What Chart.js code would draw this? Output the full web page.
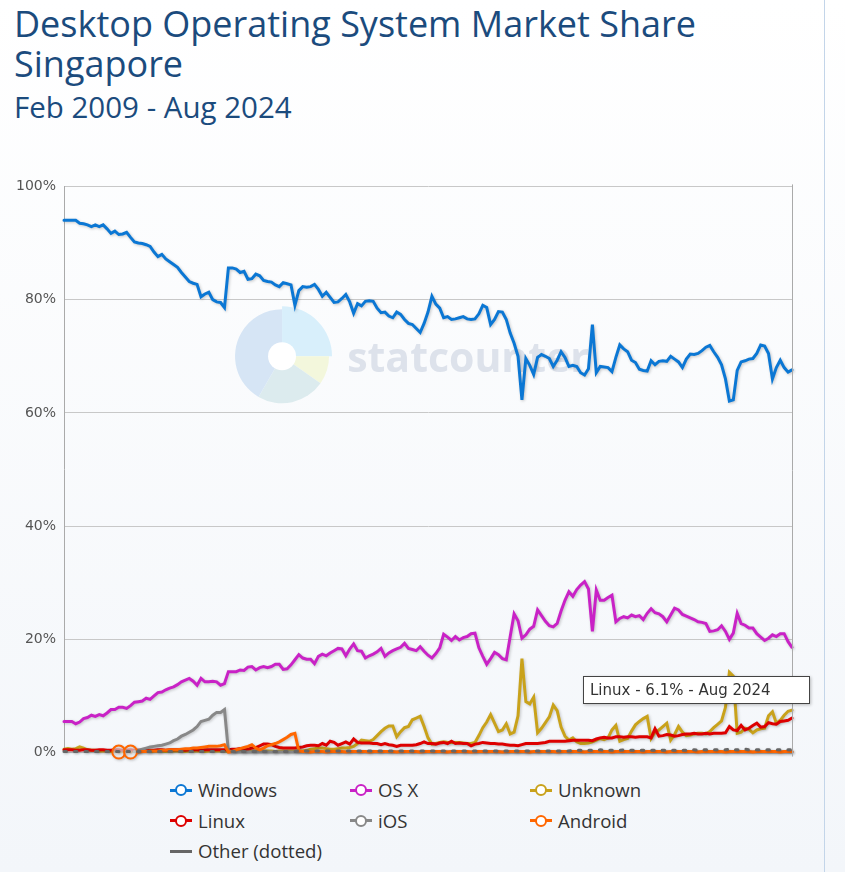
<!DOCTYPE html>
<html>
<head>
<meta charset="utf-8">
<title>Desktop Operating System Market Share Singapore</title>
<script src="https://cdn.jsdelivr.net/npm/chart.js@4.4.1/dist/chart.umd.min.js"></script>
<style>
    body {
        margin: 0;
        width: 845px;
        height: 872px;
        overflow: hidden;
        position: relative;
        background: linear-gradient(#ffffff, #f3f6fa);
        font-family: 'Open Sans', sans-serif;
    }
    #frame {
        position: absolute;
        left: 0;
        top: 0;
        width: 824px;
        height: 872px;
        border-right: 1px solid #c3d5e9;
    }
    h1, h2 {
        position: absolute;
        left: 14px;
        margin: 0;
        font-weight: normal;
        color: #1b4b7d;
        white-space: nowrap;
    }
    h1 { top: 4px; font-size: 36px; line-height: 40px; }
    h2 { top: 90px; font-size: 29.5px; line-height: 34px; }
    #wrap {
        position: absolute;
        left: 0;
        top: 170px;
        width: 800px;
        height: 599px;
    }
    #legend {
        position: absolute;
        left: 170px;
        top: 775px;
        display: grid;
        grid-template-columns: 180px 180px 180px;
        font-size: 18.6px;
        line-height: 30.5px;
        color: #333;
    }
    .item { display: flex; align-items: center; white-space: nowrap; }
    .mark { position: relative; width: 22px; height: 12px; margin-right: 6px; }
    .mark .ln { position: absolute; left: 0; top: 4.5px; width: 22px; height: 3px; }
    .mark .pt { position: absolute; left: 5px; top: 0; width: 8px; height: 8px; border-radius: 50%; border: 2px solid; background: #fff; }
    #tip {
        position: absolute;
        width: 219px;
        height: 26px;
        padding: 0 0 0 6px;
        background: #fff;
        border: 1px solid #444;
        box-shadow: 1px 1px 3px rgba(0,0,0,0.25);
        font-family: 'DejaVu Sans', sans-serif;
        font-size: 15px;
        line-height: 26px;
        color: #333;
        white-space: nowrap;
    }
</style>
</head>
<body>
<div id="frame"></div>
<h1>Desktop Operating System Market Share<br>Singapore</h1>
<h2>Feb 2009 - Aug 2024</h2>
<div id="wrap"><canvas id="chart"></canvas></div>
<div id="legend"></div>
<div id="tip"></div>
<script>
// monthly labels, Feb 2009 .. Aug 2024
const MONTHS = ['Jan','Feb','Mar','Apr','May','Jun','Jul','Aug','Sep','Oct','Nov','Dec'];
const labels = [];
for (let y = 2009, m = 1; y < 2024 || (y === 2024 && m <= 7); m++) {
    if (m === 12) { m = 0; y++; }
    labels.push(MONTHS[m] + ' ' + y);
}

const seriesNames = ['Windows', 'OS X', 'Unknown', 'Linux', 'iOS', 'Android', 'Other (dotted)'];
const seriesColors = ['#0b77d4', '#c922c6', '#c9a21b', '#dd0000', '#888888', '#ff6600', '#666666'];

const windows = [
    94.0, 94.0, 94.0, 94.0, 93.5, 93.4, 93.2, 92.9, 93.2, 92.9,
    93.2, 92.5, 91.7, 92.1, 91.5, 91.6, 91.9, 91.0, 90.2, 90.0,
    89.9, 89.7, 89.4, 88.4, 87.6, 88.0, 87.2, 86.7, 86.2, 85.7,
    84.8, 84.0, 83.2, 82.9, 82.7, 80.5, 81.0, 81.3, 80.0, 79.6,
    79.5, 78.6, 85.6, 85.6, 85.4, 84.8, 85.0, 83.6, 83.7, 84.5,
    84.2, 83.4, 83.2, 83.1, 82.6, 82.3, 83.0, 82.8, 82.6, 79.0,
    81.6, 82.3, 82.2, 82.3, 82.7, 81.8, 80.6, 81.3, 80.4, 79.5,
    79.6, 80.2, 80.9, 79.6, 77.6, 79.3, 78.9, 79.7, 79.8, 79.7,
    78.5, 77.7, 77.8, 77.1, 76.8, 77.8, 77.4, 76.5, 75.8, 75.6,
    74.9, 74.2, 75.8, 77.8, 80.6, 79.2, 78.5, 76.8, 77.0, 76.5,
    76.6, 76.8, 77.0, 76.6, 76.5, 76.6, 77.5, 79.0, 78.6, 75.6,
    76.5, 77.9, 77.8, 76.5, 74.1, 72.3, 70.0, 62.3, 69.6, 68.4,
    66.8, 69.8, 70.3, 70.0, 69.6, 68.2, 69.3, 70.8, 69.8, 68.2,
    68.4, 68.2, 67.1, 66.7, 67.8, 75.6, 67.1, 68.2, 68.1, 68.0,
    67.3, 69.8, 72.0, 71.3, 70.8, 69.3, 68.9, 67.7, 67.5, 67.4,
    69.2, 68.5, 69.1, 69.2, 69.1, 70.0, 69.5, 69.0, 68.0, 69.5,
    70.4, 70.3, 70.5, 71.0, 71.6, 71.9, 70.8, 69.8, 68.5, 66.0,
    62.1, 62.3, 67.5, 69.0, 69.2, 69.5, 69.6, 70.5, 72.0, 71.8,
    70.5, 66.0, 68.0, 69.3, 68.0, 67.2, 67.6
];

const osx = [
    5.5, 5.5, 5.5, 5.1, 5.4, 6.0, 6.2, 6.6, 6.4, 6.7,
    6.5, 7.0, 7.6, 7.6, 8.0, 8.0, 7.8, 8.3, 8.9, 9.0,
    9.1, 9.6, 9.4, 10.0, 10.6, 10.7, 11.1, 11.4, 11.6, 12.0,
    12.5, 12.8, 13.1, 12.6, 11.9, 13.1, 12.5, 12.5, 12.6, 12.5,
    11.9, 12.2, 14.3, 14.3, 14.3, 14.6, 14.5, 15.1, 15.2, 14.6,
    15.0, 15.2, 15.0, 15.2, 15.6, 15.6, 14.7, 14.8, 15.5, 16.4,
    17.3, 16.7, 16.5, 16.5, 15.7, 17.0, 17.4, 17.1, 17.6, 18.0,
    18.4, 18.3, 17.1, 18.3, 19.2, 18.0, 17.9, 16.7, 17.1, 17.4,
    17.8, 18.4, 17.0, 17.6, 18.0, 18.3, 18.6, 19.3, 18.4, 18.2,
    18.0, 18.7, 17.9, 17.2, 16.7, 17.5, 18.5, 20.9, 20.4, 19.8,
    20.5, 19.9, 20.3, 20.5, 21.0, 21.1, 18.5, 17.0, 15.6, 16.6,
    17.7, 17.3, 16.6, 16.4, 20.5, 24.5, 23.3, 20.2, 20.8, 21.8,
    22.3, 25.2, 24.2, 23.2, 22.4, 22.2, 22.8, 25.0, 26.9, 28.4,
    27.6, 28.8, 29.6, 30.2, 28.9, 21.4, 28.7, 26.9, 26.9, 27.4,
    27.8, 23.1, 23.7, 24.0, 23.8, 24.3, 24.0, 24.2, 23.5, 24.6,
    25.4, 24.7, 24.5, 24.0, 23.1, 24.3, 25.5, 25.2, 24.4, 24.1,
    23.8, 23.5, 23.1, 23.0, 22.8, 21.4, 21.5, 21.7, 22.4, 21.4,
    20.0, 21.1, 24.6, 22.8, 22.5, 22.0, 22.0, 21.0, 20.4, 19.8,
    20.2, 20.8, 20.5, 21.0, 21.0, 19.6, 18.6
];

const unknown = [
    0.6, 0.7, 0.6, 0.7, 1.0, 0.8, 0.5, 0.4, 0.4, 0.3,
    0.3, 0.3, 0.2, 0.3, 0.3, 0.2, 0.3, 0.3, 0.3, 0.2,
    0.3, 0.3, 0.2, 0.3, 0.3, 0.3, 0.2, 0.3, 0.3, 0.3,
    0.3, 0.2, 0.3, 0.3, 0.3, 0.3, 0.2, 0.3, 0.3, 0.3,
    0.3, 0.3, 0.2, 0.3, 0.3, 0.3, 0.3, 0.2, 0.3, 0.3,
    0.3, 0.3, 0.3, 0.3, 0.2, 0.3, 0.3, 0.3, 0.3, 0.3,
    0.3, 0.3, 0.4, 0.6, 0.7, 0.8, 0.8, 0.7, 0.6, 0.6,
    0.7, 0.8, 0.8, 0.9, 1.1, 1.6, 2.2, 2.1, 2.0, 2.3,
    3.0, 3.7, 4.3, 4.7, 4.7, 2.8, 3.7, 4.4, 4.6, 5.8,
    6.1, 6.4, 4.6, 2.6, 1.5, 1.6, 1.8, 1.9, 1.8, 1.8,
    1.8, 1.8, 1.7, 1.6, 1.6, 1.8, 3.0, 4.4, 5.4, 6.7,
    5.2, 3.7, 4.0, 5.1, 3.3, 3.6, 6.5, 16.6, 9.0, 8.6,
    9.8, 3.5, 4.3, 5.3, 6.3, 8.4, 7.4, 4.5, 2.9, 2.2,
    2.6, 1.9, 1.6, 1.6, 1.7, 1.9, 2.2, 2.5, 2.3, 2.6,
    4.0, 4.8, 2.0, 2.3, 2.5, 3.8, 4.9, 5.5, 6.0, 6.4,
    2.5, 3.6, 4.0, 4.6, 5.2, 2.2, 3.2, 4.6, 3.6, 3.0,
    3.1, 3.3, 3.4, 3.4, 3.3, 3.7, 4.4, 5.0, 5.6, 8.0,
    14.2, 13.5, 3.4, 3.6, 4.3, 4.1, 3.5, 4.0, 4.2, 4.3,
    6.5, 7.2, 5.2, 5.7, 6.6, 7.3, 7.5
];

const linux = [
    0.5, 0.5, 0.5, 0.4, 0.4, 0.5, 0.5, 0.4, 0.4, 0.5,
    0.5, 0.4, 0.4, 0.5, 0.5, 0.4, 0.4, 0.5, 0.4, 0.4,
    0.4, 0.5, 0.4, 0.4, 0.5, 0.5, 0.4, 0.5, 0.5, 0.5,
    0.5, 0.4, 0.5, 0.5, 0.5, 0.4, 0.5, 0.5, 0.5, 0.5,
    0.5, 0.5, 0.5, 0.6, 0.6, 0.7, 0.6, 0.6, 0.8, 0.9,
    1.2, 1.5, 1.5, 1.4, 1.1, 0.9, 0.8, 0.8, 0.8, 0.8,
    0.9, 1.0, 1.2, 1.3, 1.3, 1.2, 1.6, 1.3, 2.0, 1.8,
    1.3, 1.6, 1.9, 1.5, 2.4, 1.8, 1.7, 1.7, 1.7, 1.6,
    1.6, 1.4, 1.6, 1.4, 1.3, 1.1, 1.3, 1.3, 1.3, 1.3,
    1.4, 1.6, 1.9, 1.6, 1.6, 1.5, 1.7, 1.8, 1.6, 2.0,
    1.6, 1.7, 1.6, 1.6, 1.2, 1.5, 1.6, 1.8, 1.7, 1.6,
    1.6, 1.5, 1.5, 1.4, 1.3, 1.3, 1.2, 1.4, 1.6, 1.6,
    1.6, 1.6, 1.7, 1.8, 2.0, 2.0, 2.0, 2.0, 2.0, 2.1,
    2.2, 2.2, 2.2, 2.2, 2.2, 2.1, 2.4, 2.6, 2.7, 2.6,
    2.6, 2.8, 2.8, 2.7, 2.8, 2.8, 2.7, 2.8, 2.8, 2.8,
    2.6, 4.2, 2.9, 3.0, 3.2, 3.1, 2.9, 3.0, 3.2, 3.3,
    3.3, 3.4, 3.3, 3.3, 3.4, 3.3, 3.4, 3.4, 3.4, 3.5,
    4.6, 4.0, 3.9, 4.8, 4.0, 4.3, 4.8, 5.2, 4.5, 4.6,
    5.3, 5.1, 5.0, 5.5, 5.6, 5.7, 6.1
];

const ios = [
    null, null, null, null, null, null, null, null, null, null,
    null, null, null, null, null, null, null, null, 0.2, 0.4,
    0.6, 0.8, 1.0, 1.1, 1.2, 1.3, 1.5, 1.7, 2.1, 2.4,
    2.9, 3.2, 3.6, 4.0, 4.6, 5.5, 5.7, 5.9, 6.6, 7.1,
    7.1, 7.6, 0.3, 0.2, 0.1, 0.1, 0.1, 0.1, 0.1, 0.1,
    0.1, 0.1, 0.1, 0.1, 0.1, 0.1, 0.1, 0.1, 0.1, 0.1,
    0.1, 0.1, 0.1, 0.1, 0.1, 0.1, 0.1, 0.1, 0.1, 0.1,
    0.1, 0.1, 0.1, 0.1, 0.1, 0.1, 0.1, 0.1, 0.1, 0.1,
    0.1, 0.1, 0.1, 0.1, 0.1, 0.1, 0.1, 0.1, 0.1, 0.1,
    0.1, 0.1, 0.1, 0.1, 0.1, 0.1, 0.1, 0.1, 0.1, 0.1,
    0.1, 0.1, 0.1, 0.1, 0.1, 0.1, 0.1, 0.1, 0.1, 0.1,
    0.1, 0.1, 0.1, 0.1, 0.1, 0.1, 0.1, 0.1, 0.1, 0.1,
    0.1, 0.1, 0.1, 0.1, 0.1, 0.1, 0.1, 0.1, 0.1, 0.1,
    0.1, 0.1, 0.1, 0.1, 0.1, 0.1, 0.1, 0.1, 0.1, 0.1,
    0.1, 0.1, 0.1, 0.1, 0.1, 0.1, 0.1, 0.1, 0.1, 0.1,
    0.1, 0.1, 0.1, 0.1, 0.1, 0.1, 0.1, 0.1, 0.1, 0.1,
    0.1, 0.1, 0.1, 0.1, 0.1, 0.1, 0.1, 0.1, 0.1, 0.1,
    0.1, 0.1, 0.1, 0.1, 0.1, 0.1, 0.1, 0.1, 0.1, 0.1,
    0.1, 0.1, 0.1, 0.1, 0.1, 0.1, 0.1
];

const android = [
    null, null, null, null, null, null, null, null, null, null,
    null, null, null, null, 0.1, null, null, 0.1, null, 0.1,
    0.2, 0.2, 0.3, 0.3, 0.3, 0.4, 0.4, 0.5, 0.5, 0.5,
    0.6, 0.7, 0.7, 0.8, 0.8, 0.9, 1.0, 1.1, 1.1, 1.1,
    1.2, 1.4, 0.1, 0.2, 0.5, 0.7, 0.9, 1.1, 1.4, 0.8,
    0.5, 0.8, 1.2, 1.4, 1.6, 1.9, 2.3, 2.7, 3.2, 3.4,
    0.3, 0.2, 0.2, 0.1, 0.2, 0.2, 0.2, 0.1, 0.2, 0.2,
    0.2, 0.2, 0.1, 0.2, 0.2, 0.2, 0.2, 0.2, 0.1, 0.2,
    0.2, 0.2, 0.2, 0.2, 0.2, 0.1, 0.2, 0.2, 0.2, 0.2,
    0.2, 0.1, 0.2, 0.2, 0.2, 0.2, 0.2, 0.2, 0.1, 0.2,
    0.2, 0.2, 0.2, 0.2, 0.1, 0.2, 0.2, 0.2, 0.2, 0.2,
    0.2, 0.2, 0.1, 0.2, 0.2, 0.2, 0.2, 0.2, 0.2, 0.1,
    0.2, 0.2, 0.2, 0.2, 0.2, 0.2, 0.1, 0.2, 0.2, 0.2,
    0.2, 0.2, 0.2, 0.1, 0.2, 0.2, 0.2, 0.2, 0.2, 0.2,
    0.1, 0.2, 0.2, 0.2, 0.2, 0.2, 0.2, 0.2, 0.1, 0.2,
    0.2, 0.2, 0.2, 0.2, 0.1, 0.2, 0.2, 0.2, 0.2, 0.2,
    0.2, 0.2, 0.1, 0.2, 0.2, 0.2, 0.2, 0.2, 0.2, 0.1,
    0.2, 0.2, 0.2, 0.2, 0.2, 0.2, 0.1, 0.2, 0.2, 0.2,
    0.2, 0.2, 0.2, 0.1, 0.2, 0.2, 0.2
];

const other = [
    0.2, 0.2, 0.2, 0.2, 0.2, 0.2, 0.2, 0.2, 0.2, 0.2,
    0.2, 0.2, 0.2, 0.2, 0.2, 0.2, 0.2, 0.2, 0.2, 0.2,
    0.2, 0.2, 0.2, 0.2, 0.2, 0.2, 0.2, 0.2, 0.2, 0.2,
    0.2, 0.2, 0.2, 0.2, 0.2, 0.2, 0.2, 0.2, 0.2, 0.2,
    0.2, 0.2, 0.2, 0.2, 0.2, 0.2, 0.2, 0.2, 0.2, 0.2,
    0.2, 0.2, 0.2, 0.2, 0.2, 0.2, 0.2, 0.2, 0.2, 0.2,
    0.3, 0.3, 0.3, 0.3, 0.3, 0.3, 0.3, 0.3, 0.3, 0.3,
    0.3, 0.3, 0.3, 0.3, 0.3, 0.3, 0.3, 0.3, 0.3, 0.3,
    0.3, 0.3, 0.3, 0.3, 0.3, 0.3, 0.3, 0.3, 0.3, 0.3,
    0.3, 0.3, 0.3, 0.3, 0.3, 0.3, 0.3, 0.3, 0.3, 0.3,
    0.3, 0.3, 0.3, 0.3, 0.3, 0.3, 0.3, 0.3, 0.3, 0.3,
    0.3, 0.3, 0.3, 0.3, 0.3, 0.3, 0.3, 0.3, 0.3, 0.3,
    0.3, 0.3, 0.3, 0.3, 0.3, 0.3, 0.3, 0.3, 0.3, 0.3,
    0.4, 0.4, 0.4, 0.4, 0.4, 0.4, 0.4, 0.5, 0.4, 0.4,
    0.4, 0.4, 0.4, 0.5, 0.4, 0.4, 0.4, 0.4, 0.4, 0.4,
    0.4, 0.4, 0.5, 0.4, 0.4, 0.4, 0.4, 0.4, 0.4, 0.4,
    0.5, 0.5, 0.4, 0.5, 0.5, 0.5, 0.5, 0.5, 0.5, 0.5,
    0.6, 0.5, 0.5, 0.5, 0.6, 0.5, 0.5, 0.5, 0.5, 0.5,
    0.5, 0.5, 0.5, 0.5, 0.5, 0.5, 0.5
];

const seriesData = [windows, osx, unknown, linux, ios, android, other];

// a point is drawn as a marker only when both neighbours are missing
function isolatedRadius(ctx) {
    const d = ctx.dataset.data, i = ctx.dataIndex;
    if (d[i] == null) return 0;
    return (d[i - 1] == null && d[i + 1] == null) ? 6.5 : 0;
}

const datasets = seriesNames.map((name, i) => ({
    label: name,
    data: seriesData[i],
    borderColor: seriesColors[i],
    backgroundColor: seriesColors[i],
    borderWidth: 3,
    borderDash: i === 6 ? [2.5, 8] : [],
    borderCapStyle: 'round',
    pointRadius: isolatedRadius,
    pointBorderWidth: 2,
    pointBackgroundColor: 'rgba(255,255,255,0.6)',
    pointBorderColor: seriesColors[i],
    tension: 0,
    spanGaps: false,
    fill: false,
    clip: { left: 4, top: 4, right: 4, bottom: 12 },
    order: seriesNames.length - i
}));

// soft shadow under each line, like the original
const lineShadow = {
    id: 'lineShadow',
    beforeDatasetDraw(chart) {
        const ctx = chart.ctx;
        ctx.save();
        ctx.shadowColor = 'rgba(0,0,0,0.22)';
        ctx.shadowBlur = 3;
        ctx.shadowOffsetX = 1;
        ctx.shadowOffsetY = 1;
    },
    afterDatasetDraw(chart) {
        chart.ctx.restore();
    }
};

// faint statcounter watermark and right border of the plot
const decor = {
    id: 'decor',
    beforeDatasetsDraw(chart) {
        const { ctx, chartArea: a } = chart;
        const w = a.right - a.left, h = a.bottom - a.top;
        const cx = a.left + w * 0.2995, cy = a.top + h * 0.30;
        const rad = Math.PI / 180;
        const slices = [
            [-90, 0, 50, '#d8effb'],
            [0, 35, 47, '#f3f7dc'],
            [35, 120, 47, '#dcebee'],
            [120, 270, 47, '#d6e5f5']
        ];
        ctx.save();
        slices.forEach(([s, e, r, c]) => {
            ctx.beginPath();
            ctx.moveTo(cx, cy);
            ctx.arc(cx, cy, r, s * rad, e * rad);
            ctx.closePath();
            ctx.fillStyle = c;
            ctx.fill();
        });
        ctx.beginPath();
        ctx.arc(cx, cy, 14, 0, Math.PI * 2);
        ctx.fillStyle = '#fff';
        ctx.fill();
        ctx.font = 'bold 41px "Open Sans", sans-serif';
        ctx.fillStyle = '#dde2eb';
        ctx.textBaseline = 'alphabetic';
        ctx.fillText('statcounter', a.left + w * 0.389, a.top + h * 0.327);
        ctx.restore();
    },
    afterDraw(chart) {
        const { ctx, chartArea: a } = chart;
        ctx.save();
        ctx.strokeStyle = '#aaaaaa';
        ctx.lineWidth = 1;
        ctx.beginPath();
        ctx.moveTo(a.right + 0.5, a.top - 2);
        ctx.lineTo(a.right + 0.5, a.bottom + 4);
        ctx.stroke();
        ctx.restore();
    }
};

const chart = new Chart(document.getElementById('chart'), {
    type: 'line',
    data: { labels: labels, datasets: datasets },
    options: {
        responsive: true,
        maintainAspectRatio: false,
        animation: false,
        layout: { padding: { top: 10, right: 8, bottom: 2, left: 0 } },
        plugins: {
            legend: { display: false },
            tooltip: { enabled: false }
        },
        scales: {
            x: { display: false },
            y: {
                min: 0,
                max: 100,
                afterFit: (scale) => { scale.width = 64; },
                ticks: {
                    stepSize: 20,
                    padding: 8,
                    color: '#555',
                    font: { family: 'DejaVu Sans', size: 14 },
                    callback: (v) => v + '%'
                },
                grid: { color: '#c8c8c8', drawTicks: false },
                border: { color: '#aaaaaa' }
            }
        }
    },
    plugins: [lineShadow, decor]
});

// legend laid out in three columns
const legend = document.getElementById('legend');
seriesNames.forEach((name, i) => {
    const item = document.createElement('div');
    item.className = 'item';
    const mark = document.createElement('span');
    mark.className = 'mark';
    const ln = document.createElement('span');
    ln.className = 'ln';
    ln.style.background = seriesColors[i];
    mark.appendChild(ln);
    if (i !== 6) {
        const pt = document.createElement('span');
        pt.className = 'pt';
        pt.style.borderColor = seriesColors[i];
        mark.appendChild(pt);
    }
    item.appendChild(mark);
    item.appendChild(document.createTextNode(name));
    legend.appendChild(item);
});

// hover label on the last Linux point
const linuxIdx = seriesNames.indexOf('Linux');
const last = linux.length - 1;
const pt = chart.getDatasetMeta(linuxIdx).data[last];
const tip = document.getElementById('tip');
tip.textContent = seriesNames[linuxIdx] + ' - ' + linux[last].toFixed(1) + '% - ' + labels[last];
tip.style.left = (pt.x - 209) + 'px';
tip.style.top = (170 + pt.y - 42) + 'px';
</script>
</body>
</html>
